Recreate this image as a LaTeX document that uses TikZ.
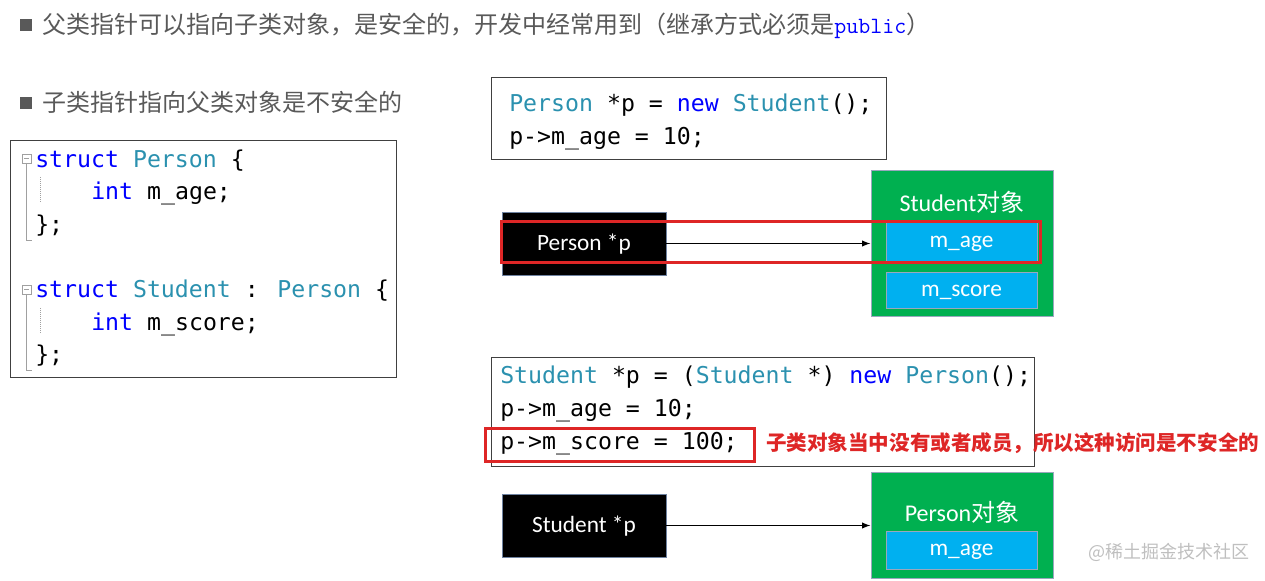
\documentclass[tikz,border=0pt]{standalone}
\usepackage{fontspec}
\usepackage{xcolor}
\usetikzlibrary{arrows.meta,positioning}
\newfontfamily\cjk{Noto Sans CJK SC}
\newfontfamily\codefont{DejaVu Sans Mono}
\newfontfamily\boxfont{Carlito}
\definecolor{TitleGray}{RGB}{89,89,89}
\definecolor{KeyBlue}{RGB}{0,0,255}
\definecolor{TypeTeal}{RGB}{43,145,175}
\definecolor{ObjGreen}{RGB}{0,176,80}
\definecolor{FieldBlue}{RGB}{0,176,240}
\definecolor{MarkRed}{RGB}{222,38,38}
\definecolor{EdgeGray}{RGB}{110,130,160}
\definecolor{FoldGray}{RGB}{160,160,160}
\newcommand{\kw}[1]{\textcolor{KeyBlue}{#1}}
\newcommand{\ty}[1]{\textcolor{TypeTeal}{#1}}

\begin{document}
\begin{tikzpicture}[x=0.75pt, y=-0.75pt,
    title/.style={anchor=base west, inner sep=0pt, text=TitleGray, font=\cjk\fontsize{18pt}{22pt}\selectfont},
    bullet/.style={fill=TitleGray, minimum size=9pt, inner sep=0pt},
    codebox/.style={draw=black!75, line width=0.75pt, inner sep=0pt},
    code/.style={anchor=base west, inner sep=0pt, font=\codefont\fontsize{17.4pt}{20pt}\selectfont},
    ptrbox/.style={draw=EdgeGray, fill=black, text=white, minimum width=123pt, minimum height=47.25pt, text height=11pt, text depth=0pt, font=\boxfont\fontsize{17.5pt}{20pt}\selectfont},
    objbox/.style={draw=EdgeGray!70, fill=ObjGreen, minimum width=136.5pt, line width=0.75pt},
    objlabel/.style={text=white, inner sep=0pt, font=\boxfont\fontsize{18pt}{20pt}\selectfont},
    field/.style={draw=EdgeGray!70, fill=FieldBlue, text=white, minimum width=113.25pt, text height=8.5pt, text depth=0pt, font=\boxfont\fontsize{17.5pt}{20pt}\selectfont},
    redbox/.style={draw=MarkRed, line width=2.25pt},
    fold/.style={draw=FoldGray, line width=0.5pt},
    arrow/.style={-{Latex[length=2.2mm]}, thick, draw=black}
  ]
    \useasboundingbox (0,0) rectangle (1265,581);
    % headings
    \node[bullet] (b1) at (26,25) {};
    \node[title] (t1) at (42,34) {父类指针可以指向子类对象，是安全的，开发中经常用到（继承方式必须是{\ttfamily\color{KeyBlue}\fontsize{17.5pt}{20pt}\selectfont public}）};
    \node[bullet] (b2) at (26,103) {};
    \node[title] (t2) at (42,112) {子类指针指向父类对象是不安全的};

    % class definitions
    \node[codebox, minimum width=289.5pt, minimum height=177pt] (defs) at (203,259) {};
    \node[code] (d1) at (35,168) {\kw{struct} \ty{Person} \{};
    \node[code] (d2) at (91,200) {\kw{int} m\_age;};
    \node[code] (d3) at (35,233) {\};};
    \node[code] (d4) at (35,298) {\kw{struct} \ty{Student} : \ty{Person} \{};
    \node[code] (d5) at (91,330) {\kw{int} m\_score;};
    \node[code] (d6) at (35,363) {\};};
    \foreach \ya/\yb/\yc in {154/240/177, 285/370/308} {
      \draw[fold] (22,\ya) rectangle ++(9,9);
      \draw[fold] (24,\ya+4.5) -- ++(5,0);
      \draw[fold] (26.5,\ya+9) -- (26.5,\yb) -- (32,\yb);
      \draw[fold, densely dotted] (40,\yc) -- (40,\yc+26);
    }

    % safe case
    \node[codebox, minimum width=296.25pt, minimum height=61.5pt] (up) at (688.5,119) {};
    \node[code] (u1) at (509,112) {\ty{Person} *p = \kw{new} \ty{Student}();};
    \node[code] (u2) at (509,145) {p->m\_age = 10;};

    \node[ptrbox] (pp1) at (584,243.5) {Person *p};
    \node[objbox, minimum height=109.5pt] (sobj) at (962,244) {};
    \node[objlabel] (sname) at (962,202) {Student{\cjk 对象}};
    \node[field, minimum height=30pt] (sage) at (961.5,242) {m\_age};
    \node[field, minimum height=27pt, below=7.5pt of sage] (sscore) {m\_score};
    \draw[arrow] (pp1.east) -- (pp1.east -| sobj.west);
    \draw[redbox] (501,222) rectangle (1040,263);

    % unsafe case
    \node[codebox, minimum width=407.25pt, minimum height=81.75pt] (down) at (762.5,411.5) {};
    \node[code] (w1) at (500,383) {\ty{Student} *p = (\ty{Student} *) \kw{new} \ty{Person}();};
    \node[code] (w2) at (500,416) {p->m\_age = 10;};
    \node[code] (w3) at (500,449) {p->m\_score = 100;};
    \draw[redbox] (485,428) rectangle (754,461);
    \node[anchor=base west, inner sep=0pt, text=MarkRed, font=\cjk\bfseries\fontsize{15.4pt}{18pt}\selectfont] (warn) at (766,450) {子类对象当中没有或者成员，所以这种访问是不安全的};

    \node[ptrbox] (pp2) at (584,525.5) {Student *p};
    \node[objbox, minimum height=79.5pt] (pobj) at (962,525) {};
    \node[objlabel] (pname) at (962,512) {Person{\cjk 对象}};
    \node[field, minimum height=28.5pt] (page) at (961.5,550) {m\_age};
    \draw[arrow] (pp2.east) -- (pp2.east -| pobj.west);

    \node[anchor=west, inner sep=0pt, text=black!25, font=\cjk\fontsize{13.5pt}{16pt}\selectfont] (mark) at (1088,552) {@稀土掘金技术社区};
  \end{tikzpicture}
\end{document}
